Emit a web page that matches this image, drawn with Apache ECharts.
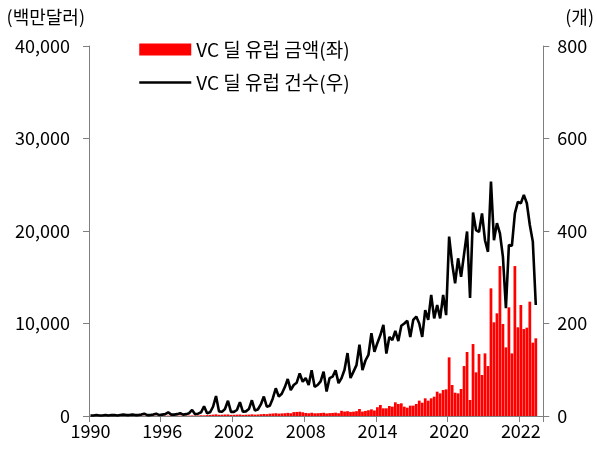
<!DOCTYPE html>
<html>
<head>
<meta charset="utf-8">
<script src="https://cdn.jsdelivr.net/npm/echarts@6/dist/echarts.min.js"></script>
<style>html,body{margin:0;padding:0;background:#fff;}#chart{width:597px;height:450px;}</style>
</head>
<body>
<div id="chart"></div>
<script>
// Tick labels shown on the x axis (every 24 quarters)
const tickLabels = ['1990', '1996', '2002', '2008', '2014', '2020', '2022'];

// Quarterly VC deal amount in Europe (USD million), left axis
const dealAmount = [
  10, 10, 15, 10, 10, 15, 10, 15, 15, 10, 15, 20, 15, 15, 20, 15, 15, 20, 25, 15,
  20, 20, 30, 20, 25, 30, 40, 25, 30, 35, 40, 30, 40, 45, 60, 45, 60, 80, 70, 100,
  120, 150, 180, 130, 140, 160, 170, 120, 130, 150, 160, 120, 140, 150, 180, 150, 160, 190, 220, 200,
  250, 270, 300, 260, 280, 300, 340, 300, 420, 440, 460, 400, 330, 300, 350, 290, 300, 320, 350, 280,
  310, 330, 360, 300, 560, 480, 520, 440, 470, 520, 760, 480, 550, 620, 720, 600, 950, 1190, 830, 830,
  1080, 1010, 1480, 1300, 1370, 1010, 900, 1120, 1120, 1300, 1660, 1440, 1910, 1660, 1910, 2090, 2630, 2450, 2810, 2880,
  6340, 3350, 2520, 2450, 2920, 5400, 6920, 1730, 7780, 4720, 6700, 4430, 6770, 5400, 13800, 10130, 11100, 16210, 9950, 7420,
  11750, 6770, 16210, 9590, 12000, 9400, 9550, 12360, 7930, 8400
];

// Quarterly VC deal count in Europe, right axis
const dealCount = [
  1, 1, 2, 1, 1, 2, 1, 2, 2, 1, 2, 3, 2, 2, 3, 2, 2, 3, 5, 2,
  2, 3, 5, 2, 3, 4, 8, 3, 3, 4, 6, 3, 4, 6, 13, 4, 5, 8, 21, 6,
  8, 20, 43, 10, 9, 15, 33, 9, 9, 13, 30, 9, 10, 15, 34, 12, 14, 25, 42, 20,
  22, 38, 60, 42, 48, 62, 80, 56, 67, 72, 92, 74, 82, 67, 99, 63, 67, 75, 96, 53,
  82, 85, 99, 71, 82, 100, 136, 82, 96, 110, 154, 99, 120, 132, 179, 139, 158, 175, 197, 135,
  171, 164, 184, 162, 195, 200, 206, 171, 208, 215, 200, 171, 229, 208, 262, 211, 240, 211, 262, 218,
  388, 330, 287, 341, 301, 350, 399, 255, 440, 402, 398, 438, 380, 355, 507, 380, 417, 395, 344, 233,
  370, 368, 438, 463, 460, 478, 460, 413, 377, 240
];

const categoryCount = 152;
const categories = [];
for (let i = 0; i < categoryCount; i++) {
  categories.push('Q' + (i % 4 + 1) + '-' + i);
}

const FONT = '"Noto Sans CJK KR", "Noto Sans", sans-serif';
const AXIS_COLOR = '#7f7f7f';

const chart = echarts.init(document.getElementById('chart'), null, {renderer: 'canvas'});
chart.setOption({
  animation: false,
  textStyle: {fontFamily: FONT, color: '#000'},
  grid: {left: 89, right: 53, top: 46, bottom: 34, containLabel: false},
  legend: {
    orient: 'vertical',
    left: 133,
    top: 35,
    itemWidth: 52,
    itemHeight: 12,
    itemGap: 14,
    itemTextGap: 4,
    textStyle: {fontFamily: FONT, fontSize: 19, color: '#000'},
    data: [
      {name: 'VC 딜 유럽 금액(좌)', icon: 'rect'},
      {name: 'VC 딜 유럽 건수(우)', itemStyle: {opacity: 0}, lineStyle: {color: '#000', width: 2.5}}
    ]
  },
  xAxis: {
    type: 'category',
    data: categories,
    boundaryGap: true,
    axisLine: {show: true, lineStyle: {color: AXIS_COLOR, width: 1}},
    axisTick: {show: true, length: 6, lineStyle: {color: AXIS_COLOR}, interval: (i) => i % 24 === 0},
    axisLabel: {
      interval: (i) => i % 24 === 0,
      fontSize: 18,
      color: '#000',
      fontFamily: FONT,
      margin: 6,
      formatter: (v, i) => tickLabels[Math.round(i / 24)] || ''
    },
    splitLine: {show: false}
  },
  yAxis: [
    {
      type: 'value',
      min: 0, max: 40000, interval: 10000,
      name: '(백만달러)',
      nameLocation: 'end',
      nameGap: 29,
      nameTextStyle: {fontFamily: FONT, fontSize: 18, color: '#000', align: 'right', verticalAlign: 'middle', padding: [0, 4, 0, 0]},
      axisLine: {show: true, lineStyle: {color: AXIS_COLOR}},
      axisTick: {show: true, length: 6, lineStyle: {color: AXIS_COLOR}},
      axisLabel: {fontSize: 18, color: '#000', fontFamily: FONT, margin: 19,
        formatter: (v) => v.toLocaleString('en-US')},
      splitLine: {show: false}
    },
    {
      type: 'value',
      min: 0, max: 800, interval: 200,
      name: '(개)',
      nameLocation: 'end',
      nameGap: 29,
      nameTextStyle: {fontFamily: FONT, fontSize: 18, color: '#000', align: 'left', verticalAlign: 'middle', padding: [0, 0, 0, 22]},
      axisLine: {show: true, lineStyle: {color: AXIS_COLOR}},
      axisTick: {show: true, length: 6, lineStyle: {color: AXIS_COLOR}},
      axisLabel: {fontSize: 18, color: '#000', fontFamily: FONT, margin: 14},
      splitLine: {show: false}
    }
  ],
  series: [
    {
      name: 'VC 딜 유럽 금액(좌)',
      type: 'bar',
      yAxisIndex: 0,
      data: dealAmount,
      barCategoryGap: '8%',
      itemStyle: {color: '#ff0000'}
    },
    {
      name: 'VC 딜 유럽 건수(우)',
      type: 'line',
      yAxisIndex: 1,
      data: dealCount,
      symbol: 'none',
      showSymbol: false,
      lineStyle: {color: '#000', width: 2.6},
      itemStyle: {color: '#000'}
    }
  ]
});
</script>
</body>
</html>
